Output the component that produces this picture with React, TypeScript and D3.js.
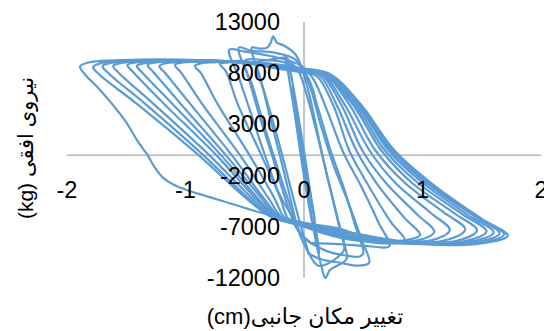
import React from "react";
import * as d3 from "d3";

type Pt = [number, number];

// Axis ticks and titles
const xTicks: number[] = [-2, -1, 0, 1, 2];
const yTicks: number[] = [13000, 8000, 3000, -2000, -7000, -12000];
const xTitle = "تغییر مکان جانبی(cm)";
const yTitle = "نیروی افقی (kg)";

// Lateral displacement (cm) vs. horizontal force (kg), one array per loading cycle
const cycle01: Pt[] = [[0, 0], [0.04, -2800], [0.08, -5600], [0.09, -6200], [0.06, -4200], [0.01, -800], [-0.04, 2800], [-0.09, 6000], [-0.1, 6600], [-0.07, 4600], [-0.03, 1200], [0.02, -2600], [0.07, -6400]];
const cycle02: Pt[] = [[0.07, -6400], [0.11, -8800], [0.13, -9600], [0.1, -7200], [0.05, -3400], [0.0, 400], [-0.06, 4600], [-0.12, 8400], [-0.16, 9800], [-0.13, 7800], [-0.07, 3400], [-0.02, -600], [0.04, -4800], [0.1, -8400]];
const cycle03: Pt[] = [[0.1, -8400], [0.15, -11000], [0.18, -12000], [0.22, -11200], [0.28, -10800], [0.36, -10100], [0.31, -7600], [0.24, -4200], [0.17, -800], [0.1, 3000], [0.02, 7000], [-0.07, 9800], [-0.17, 10700], [-0.23, 11000], [-0.26, 11600], [-0.28, 11000], [-0.31, 10500], [-0.38, 10400], [-0.44, 10500], [-0.37, 7600], [-0.28, 3400], [-0.2, -200], [-0.12, -4000], [-0.04, -7600], [0.04, -9600]];
const cycle04: Pt[] = [[0.04, -9600], [0.12, -10800], [0.2, -10600], [0.3, -9800], [0.34, -9200], [0.28, -6000], [0.2, -2200], [0.12, 1600], [0.04, 5200], [-0.05, 8300], [-0.12, 9150], [-0.15, 9500], [-0.3, 9300], [-0.4, 9000], [-0.33, 6000], [-0.24, 2400], [-0.15, -1500], [-0.06, -5500], [0.04, -9600]];
const cycle05: Pt[] = [[0.04, -9600], [0.15, -10200], [0.3, -10500], [0.45, -10800], [0.55, -10500], [0.49, -8400], [0.38, -4800], [0.25, -1000], [0.14, 3000], [0.04, 7000], [-0.07, 9300], [-0.25, 10000], [-0.45, 10200], [-0.55, 10500], [-0.47, 7600], [-0.37, 3600], [-0.27, 0], [-0.17, -3800], [-0.06, -7200], [0.06, -8600]];
const cycle06: Pt[] = [[0.06, -8600], [0.2, -9400], [0.35, -9800], [0.47, -9900], [0.5, -9600], [0.43, -6800], [0.33, -3000], [0.22, 600], [0.12, 4500], [0.02, 7800], [-0.15, 9000], [-0.35, 9300], [-0.5, 9200], [-0.43, 6600], [-0.34, 3000], [-0.24, -600], [-0.13, -4500], [-0.02, -7800], [0.06, -8600]];
const cycle07: Pt[] = [[0.06, -8600], [0.3, -8700], [0.55, -8900], [0.72, -8900], [0.63, -6600], [0.48, -3000], [0.33, 300], [0.2, 4200], [0.08, 7400], [-0.02, 8700], [-0.25, 9600], [-0.5, 10100], [-0.63, 10300], [-0.55, 7600], [-0.44, 3800], [-0.33, 0], [-0.2, -4000], [-0.05, -6800]];
const cycle08: Pt[] = [[-0.05, -6800], [0.2, -7600], [0.5, -8400], [0.75, -8600], [0.85, -8300], [0.74, -6650], [0.53, -2700], [0.38, 500], [0.25, 4800], [0.11, 7700], [0.02, 8000], [-0.3, 8600], [-0.55, 9200], [-0.64, 9050], [-0.71, 8900], [-0.66, 8200], [-0.56, 5000], [-0.36, 0], [-0.2, -4200], [-0.14, -6100], [-0.08, -6600]];
const cycle09: Pt[] = [[-0.08, -6600], [0.3, -7200], [0.59, -8300], [0.86, -8300], [0.98, -7800], [0.85, -6150], [0.61, -2700], [0.44, 500], [0.28, 4800], [0.13, 7800], [0.01, 8200], [-0.3, 8700], [-0.51, 9100], [-0.78, 9050], [-0.85, 9000], [-0.92, 8700], [-0.87, 8000], [-0.73, 5000], [-0.46, 0], [-0.25, -4200], [-0.165, -6100], [-0.05, -6700]];
const cycle10: Pt[] = [[-0.05, -6700], [0.3, -7600], [0.66, -8400], [0.97, -8300], [1.1, -7500], [0.96, -5850], [0.69, -2700], [0.49, 500], [0.32, 4800], [0.14, 7950], [0.0, 8400], [-0.3, 8900], [-0.6, 9150], [-0.93, 9100], [-1.02, 9050], [-1.09, 8800], [-1.04, 8100], [-0.86, 5000], [-0.54, 0], [-0.3, -4200], [-0.185, -6100], [-0.02, -6900]];
const cycle11: Pt[] = [[-0.02, -6900], [0.32, -7800], [0.74, -8400], [1.08, -8300], [1.23, -7300], [1.07, -5650], [0.77, -2700], [0.55, 500], [0.35, 4800], [0.16, 7850], [0.02, 8200], [-0.3, 8750], [-0.67, 9150], [-1.04, 9100], [-1.15, 9000], [-1.22, 8700], [-1.17, 8000], [-0.96, 5000], [-0.61, 0], [-0.34, -4200], [-0.2, -6100], [-0.05, -6700]];
const cycle12: Pt[] = [[-0.05, -6700], [0.28, -7300], [0.82, -8500], [1.2, -8300], [1.36, -7250], [1.18, -5600], [0.85, -2700], [0.6, 500], [0.39, 4800], [0.17, 8000], [0.0, 8450], [-0.3, 8950], [-0.73, 9200], [-1.12, 9150], [-1.25, 9050], [-1.32, 8800], [-1.27, 8100], [-1.04, 5000], [-0.66, 0], [-0.36, -4200], [-0.215, -6100], [-0.08, -6600]];
const cycle13: Pt[] = [[-0.08, -6600], [0.3, -7900], [0.88, -8500], [1.28, -8400], [1.46, -7350], [1.27, -5700], [0.91, -2700], [0.65, 500], [0.42, 4800], [0.18, 7800], [0.03, 8150], [-0.3, 8700], [-0.78, 9200], [-1.2, 9150], [-1.34, 9000], [-1.41, 8700], [-1.36, 8000], [-1.11, 5000], [-0.7, 0], [-0.39, -4200], [-0.225, -6100], [-0.05, -6700]];
const cycle14: Pt[] = [[-0.05, -6700], [0.33, -7500], [0.92, -8600], [1.36, -8400], [1.54, -7450], [1.34, -5800], [0.96, -2700], [0.68, 500], [0.44, 4800], [0.19, 7900], [0.0, 8350], [-0.3, 8850], [-0.82, 9250], [-1.27, 9150], [-1.42, 9050], [-1.49, 8800], [-1.44, 8100], [-1.18, 5000], [-0.74, 0], [-0.41, -4200], [-0.235, -6100], [-0.02, -6900]];
const cycle15: Pt[] = [[-0.02, -6900], [0.3, -8000], [0.96, -8600], [1.41, -8450], [1.6, -7550], [1.39, -5900], [1.0, -2700], [0.71, 500], [0.46, 4800], [0.2, 7900], [0.02, 8250], [-0.3, 8800], [-0.89, 9250], [-1.37, 9200], [-1.54, 9000], [-1.61, 8700], [-1.56, 8000], [-1.27, 5000], [-0.8, 0], [-0.44, -4200], [-0.25, -6100], [-0.05, -6700]];
const cycle16: Pt[] = [[-0.05, -6700], [0.28, -7700], [0.99, -8650], [1.45, -8500], [1.65, -7650], [1.44, -6000], [1.03, -2700], [0.73, 500], [0.47, 4800], [0.21, 7950], [0.0, 8400], [-0.3, 8950], [-0.94, 9250], [-1.45, 9200], [-1.63, 9000], [-1.7, 8700], [-1.65, 8000], [-1.34, 5000], [-0.85, 0], [-0.47, -4200], [-0.26, -6100], [-0.08, -6600]];
const cycle17: Pt[] = [[-0.08, -6600], [0.32, -8100], [1.01, -8700], [1.49, -8550], [1.69, -7750], [1.47, -6100], [1.05, -2700], [0.75, 500], [0.48, 4800], [0.21, 7900], [0.01, 8300], [-0.3, 8850], [-0.98, 9300], [-1.51, 9250], [-1.71, 9000], [-1.78, 8600], [-1.73, 7900], [-1.41, 5000], [-0.89, 0], [-0.49, -4200], [-0.27, -6100], [-0.05, -6700]];
const cycle18: Pt[] = [[-0.05, -6700], [0.3, -7400], [1.03, -8700], [1.51, -8600], [1.72, -7870], [1.5, -6220], [1.07, -2700], [0.76, 500], [0.49, 4800], [0.22, 7900], [0.01, 8360], [-0.3, 8900], [-1.04, 9300], [-1.6, 9250], [-1.82, 9050], [-1.89, 8650], [-1.85, 7900], [-1.74, 6600], [-1.62, 5000], [-1.5, 3200], [-1.4, 1300], [-1.32, 0], [-1.26, -1200], [-1.19, -2200], [-1.1, -2900], [-0.98, -3450], [-0.84, -3950], [-0.68, -4500], [-0.4, -5500], [-0.09, -6400], [0.05, -6700]];

const cycles: Pt[][] = [cycle01, cycle02, cycle03, cycle04, cycle05, cycle06, cycle07, cycle08, cycle09, cycle10, cycle11, cycle12, cycle13, cycle14, cycle15, cycle16, cycle17, cycle18];

const W = 544;
const H = 331;
const FONT = "'Liberation Sans', 'DejaVu Sans', Arial, sans-serif";

export default function App() {
  const x = d3.scaleLinear().domain([-2, 2]).range([67, 541]);
  const y = d3.scaleLinear().domain([-12000, 13000]).range([278, 22]);
  const line = d3
    .line<Pt>()
    .x((d) => x(d[0]))
    .y((d) => y(d[1]))
    .curve(d3.curveCatmullRom.alpha(0.5));

  return (
    <svg
      width={W}
      height={H}
      viewBox={`0 0 ${W} ${H}`}
      style={{ position: "absolute", left: 0, top: 0, background: "#fff" }}
    >
      {/* axes through the origin */}
      <line x1={x(-2)} x2={x(2)} y1={y(0)} y2={y(0)} stroke="#8e8e8e" strokeWidth={1} />
      <line x1={x(0)} x2={x(0)} y1={y(13000)} y2={y(-12000)} stroke="#8e8e8e" strokeWidth={1} />

      {/* hysteresis loops */}
      <g fill="none" stroke="#5b9bd5" strokeWidth={2.2} strokeLinejoin="round" strokeLinecap="round">
        {cycles.map((c, i) => (
          <path key={i} d={line(c) ?? ""} />
        ))}
      </g>

      {/* tick labels */}
      <g fontFamily={FONT} fontSize={23.5} fill="#000">
        {yTicks.map((t) => (
          <text key={t} x={280} y={y(t)} textAnchor="end" dominantBaseline="central">
            {t}
          </text>
        ))}
        {xTicks.map((t) => (
          <text key={t} x={x(t)} y={190} textAnchor="middle" dominantBaseline="central">
            {t}
          </text>
        ))}
      </g>

      {/* axis titles */}
      <text
        x={305}
        y={316}
        textAnchor="middle"
        dominantBaseline="central"
        fontFamily={FONT}
        fontSize={22}
        direction="rtl"
        style={{ direction: "rtl", unicodeBidi: "embed" }}
      >
        {xTitle}
      </text>
      <text
        transform="translate(25,148) rotate(-90)"
        textAnchor="middle"
        dominantBaseline="central"
        fontFamily={FONT}
        fontSize={21}
        direction="rtl"
        style={{ direction: "rtl", unicodeBidi: "embed" }}
      >
        {yTitle}
      </text>
    </svg>
  );
}
